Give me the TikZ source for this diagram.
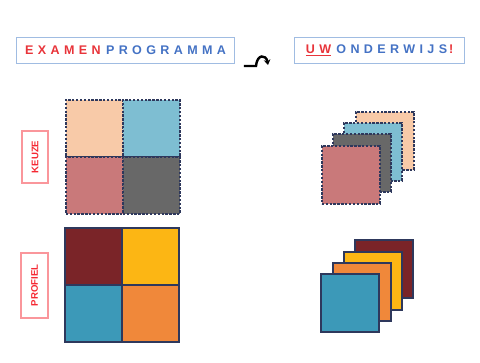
\documentclass[tikz,border=0pt]{standalone}
\usepackage{fontspec}
\setmainfont{Liberation Sans}
\usetikzlibrary{arrows.meta}
\definecolor{hdrred}{RGB}{232,52,58}
\definecolor{hdrblue}{RGB}{68,114,196}
\definecolor{hdrframe}{RGB}{160,188,226}
\definecolor{lblred}{RGB}{245,40,50}
\definecolor{lblframe}{RGB}{250,150,155}
\definecolor{edgenavy}{RGB}{46,56,92}
\definecolor{cpeach}{RGB}{248,202,168}
\definecolor{cblue}{RGB}{126,190,210}
\definecolor{crose}{RGB}{201,121,122}
\definecolor{cgray}{RGB}{104,104,104}
\definecolor{cmaroon}{RGB}{122,36,40}
\definecolor{cyellow}{RGB}{252,182,20}
\definecolor{cteal}{RGB}{60,153,184}
\definecolor{corange}{RGB}{240,136,58}
\tikzset{
  hdrbox/.style={draw=hdrframe, line width=0.9pt, inner sep=0pt, anchor=north west},
  hdrtext/.style={font=\fontsize{9.4}{10}\selectfont\bfseries\addfontfeatures{LetterSpace=35}, inner sep=0pt},
  lblbox/.style={draw=lblframe, line width=1.2pt, inner sep=0pt, rotate=90, text=lblred,
                 font=\fontsize{7.2}{8}\selectfont\bfseries},
  dashcell/.style={draw=edgenavy, line width=1.3pt, dash pattern=on 1.8pt off 1.1pt,
                   minimum width=42.75pt, minimum height=42.75pt, inner sep=0pt, anchor=north west},
  solidcell/.style={draw=edgenavy, line width=1.2pt,
                   minimum width=42.75pt, minimum height=42.75pt, inner sep=0pt, anchor=north west},
  dashsq/.style={dashcell, minimum width=43.5pt, minimum height=43.5pt},
  solidsq/.style={solidcell, minimum width=43.5pt, minimum height=43.5pt},
}
\begin{document}
\begin{tikzpicture}[x=0.75pt,y=-0.75pt]
\useasboundingbox (0,0) rectangle (480,363);
% header boxes
\node[hdrbox, minimum width=163.5pt, minimum height=19.5pt] (hleft) at (16,37) {};
\node[hdrtext] (tleft) at (hleft.center)
  {\textcolor{hdrred}{EXAMEN}\hspace{4pt}\textcolor{hdrblue}{PROGRAMMA}};
\node[hdrbox, minimum width=127.5pt, minimum height=19.5pt] (hright) at (294,37) {};
\node[hdrtext] (tright) at (hright.center)
  {\textcolor{hdrred}{\underline{UW}}\hspace{4pt}\textcolor{hdrblue}{ONDERWIJS}\hspace{1.5pt}\textcolor{hdrred}{!}};
% arrow symbol
\coordinate (a0) at (244,66);
\coordinate (a1) at (256,66);
\coordinate (a2) at (268,65);
\draw[line width=1.8pt, -{Stealth[length=4pt,width=5pt]}] (a0) -- (a1) .. controls (257,54) and (266,54) .. (a2);
% labels
\node[lblbox, minimum width=39pt, minimum height=19.5pt] (keuze) at (35,157) {KEUZE};
\node[lblbox, minimum width=48.75pt, minimum height=20.25pt] (profiel) at (34.5,285.5) {PROFIEL};
% top grid
\node[dashcell, fill=cpeach] (k11) at (65,99) {};
\node[dashcell, fill=cblue] (k12) at (122,99) {};
\node[dashcell, fill=crose] (k21) at (65,156) {};
\node[dashcell, fill=cgray] (k22) at (122,156) {};
% bottom grid
\node[solidcell, fill=cmaroon] (p11) at (64,227) {};
\node[solidcell, fill=cyellow] (p12) at (121,227) {};
\node[solidcell, fill=cteal] (p21) at (64,284) {};
\node[solidcell, fill=corange] (p22) at (121,284) {};
% top stack
\node[dashsq, fill=cpeach] (s1) at (355,111) {};
\node[dashsq, fill=cblue] (s2) at (343,122) {};
\node[dashsq, fill=cgray] (s3) at (332,133) {};
\node[dashsq, fill=crose] (s4) at (321,145) {};
% bottom stack
\node[solidsq, fill=cmaroon] (b1) at (354,239) {};
\node[solidsq, fill=cyellow] (b2) at (343,251) {};
\node[solidsq, fill=corange] (b3) at (332,262) {};
\node[solidsq, fill=cteal] (b4) at (320,273) {};
\end{tikzpicture}
\end{document}
